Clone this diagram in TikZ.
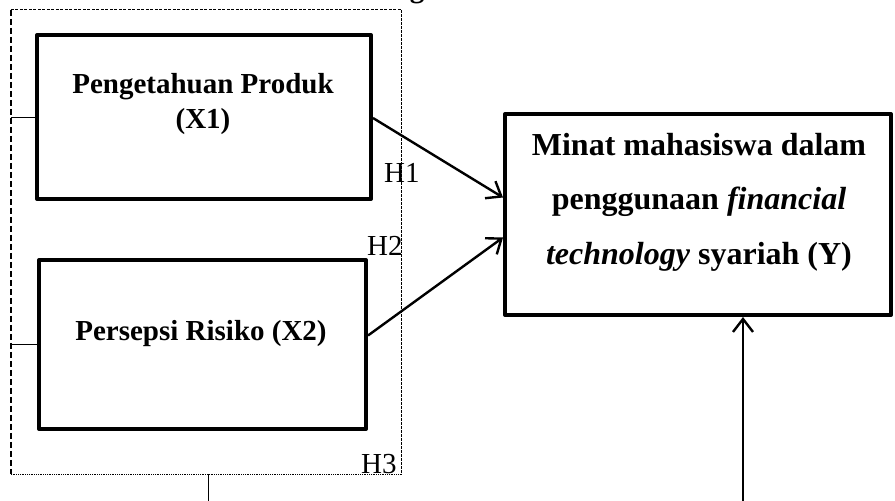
\documentclass[tikz,border=0pt]{standalone}
\usepackage{fontspec}
\setmainfont{Liberation Serif}
\usetikzlibrary{arrows.meta}
\begin{document}
\begin{tikzpicture}[x=1pt,y=-1pt,
  box/.style={draw,line width=4pt,inner sep=0pt,line join=round},
  btxt/.style={inner sep=0pt,anchor=base,font=\fontsize{29}{29}\selectfont\bfseries},
  ytxt/.style={inner sep=0pt,anchor=base,font=\fontsize{32}{32}\selectfont\bfseries},
  htxt/.style={inner sep=0pt,anchor=base west,font=\fontsize{29}{29}\selectfont},
  arr/.style={line width=2.4pt,-{Straight Barb[length=13pt,width=20pt,line width=2.4pt]}},
  thin/.style={line width=1pt}]
\useasboundingbox (0,0) rectangle (895,501);
% fragment of a title above
\node[btxt] (ttl) at (417,-3) {g};
% group box
\node[inner sep=0pt,minimum width=390pt,minimum height=464pt] (grp) at (206,242) {};
\draw[line width=2pt,dash pattern=on 6pt off 3pt] (grp.north west) -- (grp.south west);
\draw[line width=0.9pt,dash pattern=on 3pt off 1.5pt] (grp.north west) -- (grp.north east);
\draw[line width=0.9pt,dash pattern=on 3pt off 1pt] (grp.north east) -- (grp.south east);
\draw[line width=0.9pt,dash pattern=on 1pt off 0.8pt] (grp.south west) -- (grp.south east);
% boxes
\node[box,minimum width=334pt,minimum height=164pt] (x1) at (204,117) {};
\node[box,minimum width=327pt,minimum height=169pt] (x2) at (202.5,344.5) {};
\node[box,minimum width=386pt,minimum height=201pt] (y) at (698,214.5) {};
% texts
\node[btxt] (x1a) at (203,93) {Pengetahuan Produk};
\node[btxt] (x1b) at (203,128) {(X1)};
\node[btxt] (x2a) at (201,340) {Persepsi Risiko (X2)};
\node[ytxt] (ya) at (699,155) {Minat mahasiswa dalam};
\node[ytxt] (yb) at (699,209) {penggunaan \textit{financial}};
\node[ytxt] (yc) at (699,264) {\textit{technology} syariah (Y)};
\node[htxt] (h1) at (384,182) {H1};
\node[htxt] (h2) at (367,255) {H2};
\node[htxt] (h3) at (361,473) {H3};
% connectors
\draw[thin] (grp.west |- x1.west) -- (x1.west);
\draw[thin] (grp.west |- x2.west) -- (x2.west);
\coordinate (gb) at (208,501);
\draw[thin] (grp.south -| gb) -- (gb);
\draw[arr] ([yshift=-1pt]x1.east) -- ([yshift=17pt]y.west);
\draw[arr] ([yshift=9pt]x2.east) -- ([yshift=-23pt]y.west);
\coordinate (yin) at (743,501);
\draw[arr] (yin) -- (yin |- y.south);
\end{tikzpicture}
\end{document}
